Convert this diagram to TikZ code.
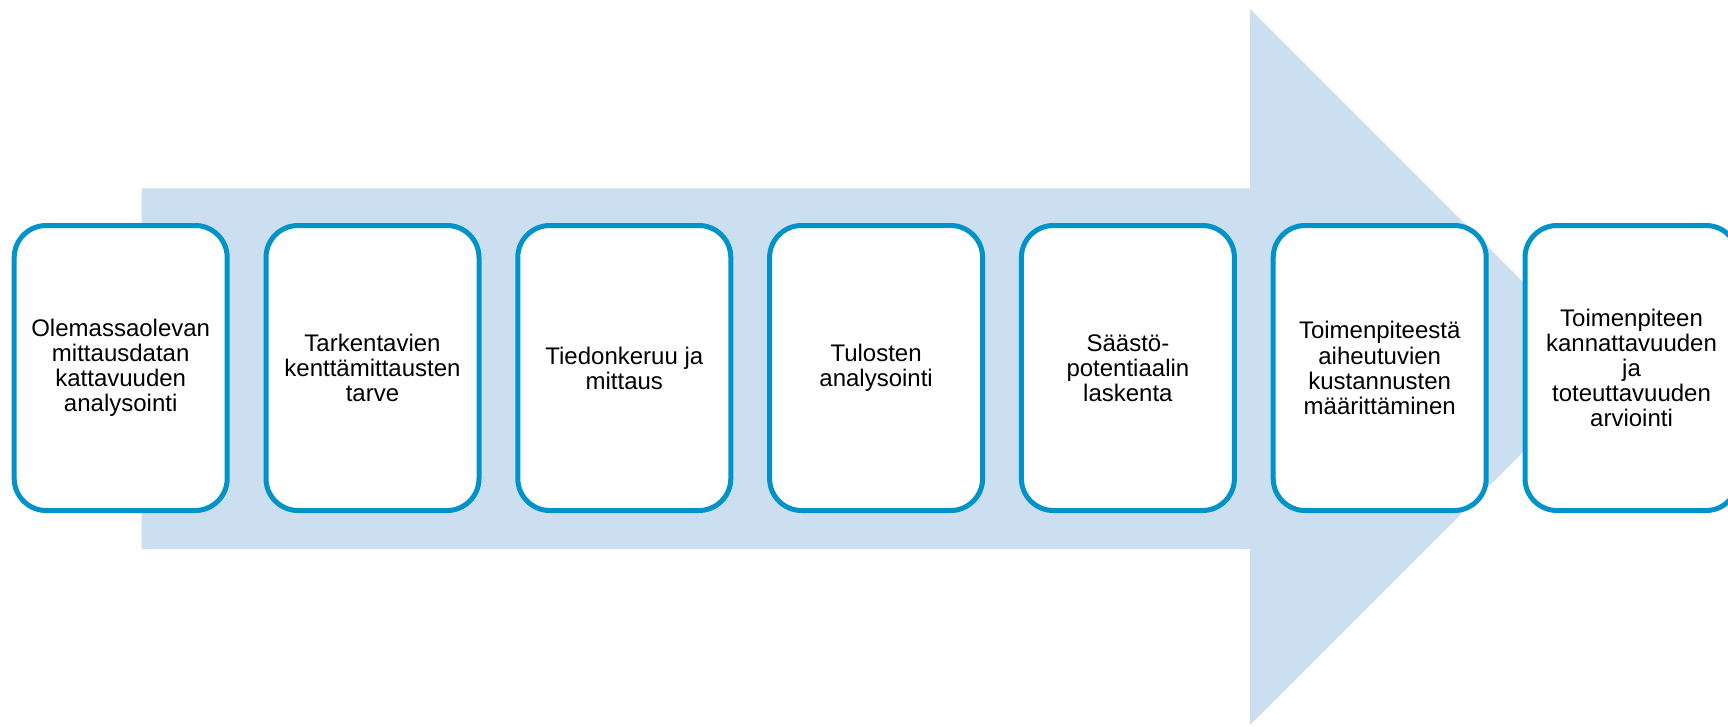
\documentclass[tikz,border=0pt]{standalone}
\usepackage{fontspec}
\setmainfont{Liberation Sans}
\definecolor{arrowfill}{RGB}{204,223,240}
\definecolor{boxline}{RGB}{0,147,201}
\begin{document}
\begin{tikzpicture}[x=0.75pt,y=-0.75pt,
  stepbox/.style={draw=boxline, line width=3.75pt, fill=white, rounded corners=24pt,
    minimum width=159.75pt, minimum height=213.75pt, inner sep=0pt,
    align=center, font=\fontsize{18pt}{18.8pt}\selectfont}]
\useasboundingbox (0,0) rectangle (1728,726);
\clip (0,0) rectangle (1728,726);
\fill[arrowfill] (141.7,188.3) -- (1250,188.3) -- (1250,9) -- (1608,367) -- (1250,725) -- (1250,549) -- (141.7,549) -- cycle;
\node[stepbox] (b1) at (120.7,368) {Olemassaolevan\\mittausdatan\\kattavuuden\\analysointi};
\node[stepbox] (b2) at (372.5,368) {Tarkentavien\\kenttämittausten\\tarve};
\node[stepbox] (b3) at (624.3,368) {Tiedonkeruu ja\\mittaus};
\node[stepbox] (b4) at (876.1,368) {Tulosten\\analysointi};
\node[stepbox] (b5) at (1127.9,368) {Säästö-\\potentiaalin\\laskenta};
\node[stepbox] (b6) at (1379.7,368) {Toimenpiteestä\\aiheutuvien\\kustannusten\\määrittäminen};
\node[stepbox] (b7) at (1631.5,368) {Toimenpiteen\\kannattavuuden\\ja\\toteuttavuuden\\arviointi};
\end{tikzpicture}
\end{document}
